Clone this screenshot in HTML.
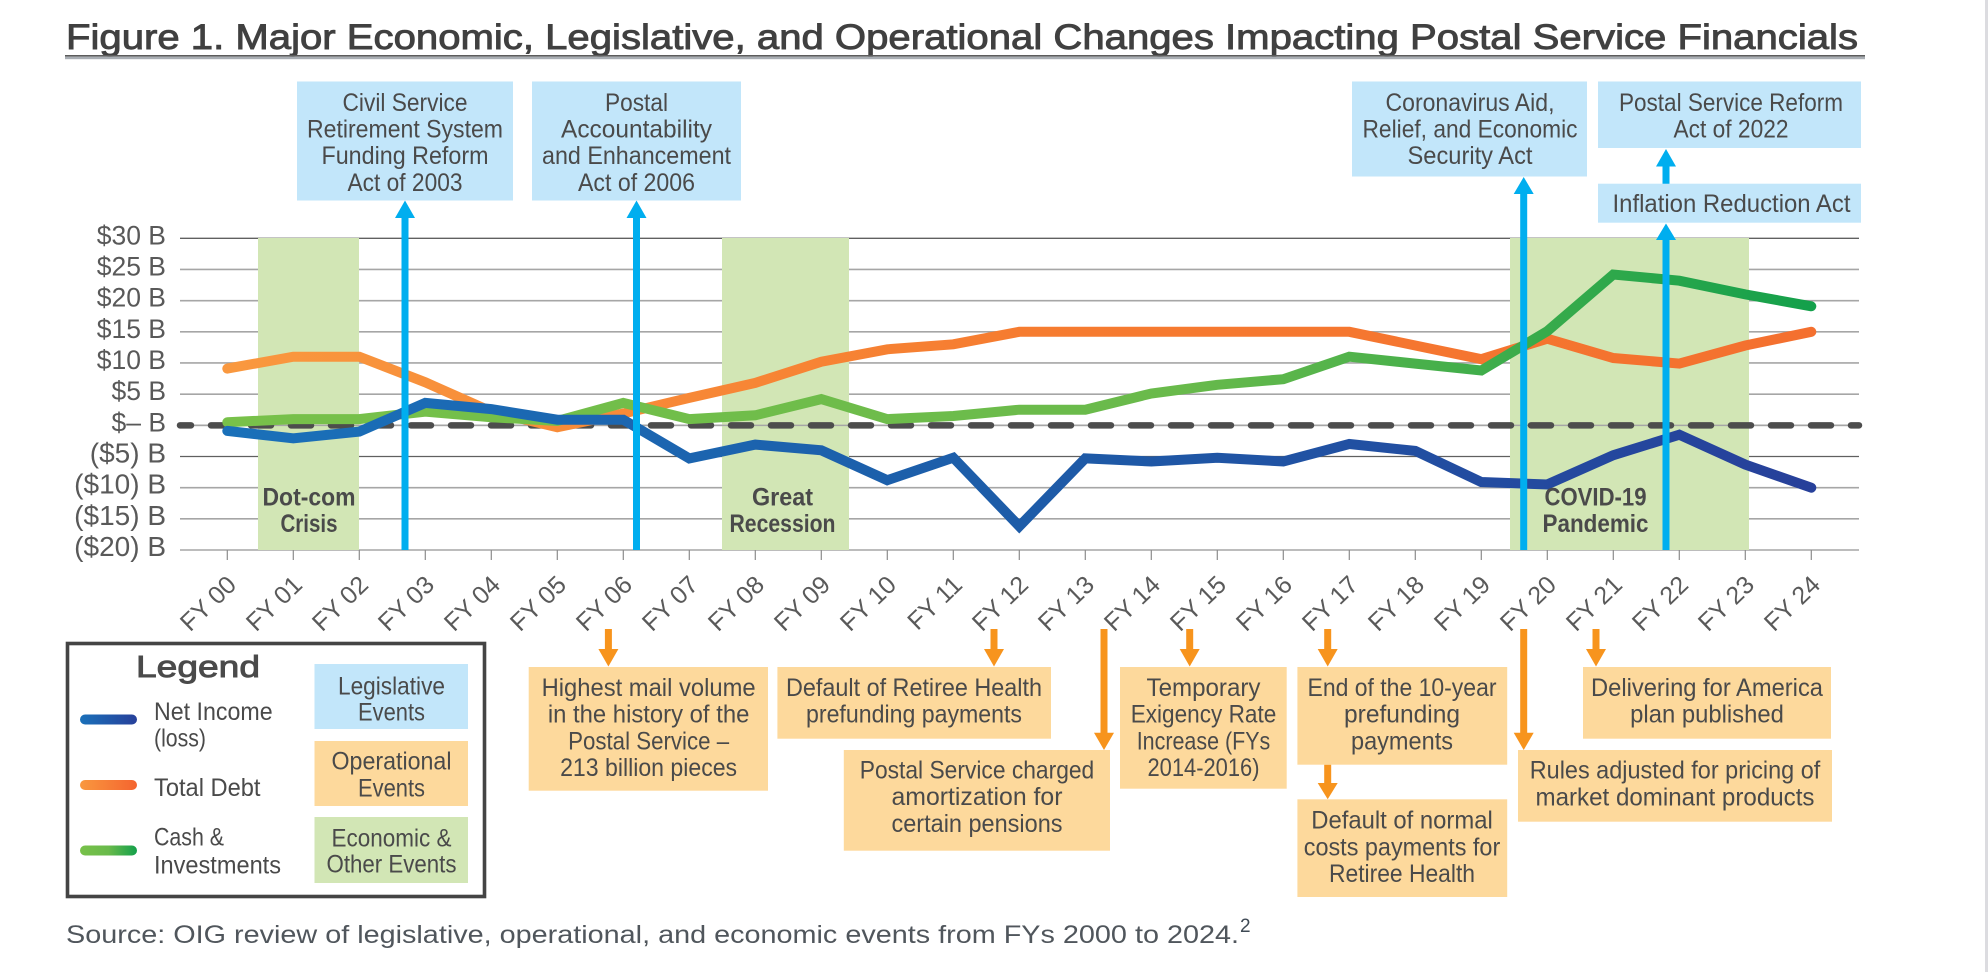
<!DOCTYPE html>
<html lang="en">
<head>
<meta charset="utf-8">
<title>Figure 1. Major Economic, Legislative, and Operational Changes Impacting Postal Service Financials</title>
<style>
  html, body { margin: 0; padding: 0; background: #fff; }
  body { width: 1988px; height: 972px; overflow: hidden; }
  svg { display: block; font-family: "Liberation Sans", sans-serif; }
  .t { font-size: 25px; fill: #4a4a4a; text-anchor: middle; }
  .l { font-size: 25px; fill: #4a4a4a; text-anchor: start; }
  .b { font-size: 25px; font-weight: bold; fill: #4a4a4a; text-anchor: middle; }
</style>
</head>
<body>
<svg id="chart" xmlns="http://www.w3.org/2000/svg" width="1988" height="972" viewBox="0 0 1988 972">
  <defs>
    <linearGradient id="gBlue" gradientUnits="userSpaceOnUse" x1="227" y1="0" x2="1811" y2="0">
      <stop offset="0" stop-color="#1a70b9"/><stop offset="0.5" stop-color="#1d5ca8"/><stop offset="1" stop-color="#27409a"/>
    </linearGradient>
    <linearGradient id="gOrange" gradientUnits="userSpaceOnUse" x1="227" y1="0" x2="1811" y2="0">
      <stop offset="0" stop-color="#f9983f"/><stop offset="0.5" stop-color="#f67c30"/><stop offset="1" stop-color="#f4702f"/>
    </linearGradient>
    <linearGradient id="gGreen" gradientUnits="userSpaceOnUse" x1="227" y1="0" x2="1811" y2="0">
      <stop offset="0" stop-color="#78c14a"/><stop offset="0.6" stop-color="#69ba4b"/><stop offset="1" stop-color="#14a04b"/>
    </linearGradient>
    <linearGradient id="sBlue"><stop offset="0" stop-color="#1a70b9"/><stop offset="1" stop-color="#27409a"/></linearGradient>
    <linearGradient id="sOrange"><stop offset="0" stop-color="#f9983f"/><stop offset="1" stop-color="#f4642f"/></linearGradient>
    <linearGradient id="sGreen"><stop offset="0" stop-color="#78c14a"/><stop offset="0.5" stop-color="#69ba4b"/><stop offset="1" stop-color="#14a04b"/></linearGradient>
  </defs>

  <rect x="1985" y="0" width="3" height="972" fill="#dcdce0"/>

  <text x="66" y="49" font-size="35" fill="#404040" stroke="#404040" stroke-width="0.9" textLength="1792" lengthAdjust="spacingAndGlyphs">Figure 1. Major Economic, Legislative, and Operational Changes Impacting Postal Service Financials</text>
  <rect x="65" y="55" width="1800" height="1.6" fill="#5c5c5c"/>
  <rect x="65" y="56.6" width="1800" height="2.6" fill="#a9aeb4"/>

  <g id="gridLayer"></g>

  <g>
    <rect x="258" y="238" width="101" height="312" fill="#d2e6b5"/>
    <rect x="722" y="238" width="127" height="312" fill="#d2e6b5"/>
    <rect x="1510" y="238" width="239" height="312" fill="#d2e6b5"/>
  </g>

  <g id="axisLayer"></g>
  <g id="zeroLayer"></g>
  <g id="seriesLayer"></g>

  <g>
    <text class="b" x="309" y="505.5" textLength="93" lengthAdjust="spacingAndGlyphs">Dot-com</text>
    <text class="b" x="309" y="532" textLength="57" lengthAdjust="spacingAndGlyphs">Crisis</text>
    <text class="b" x="782.5" y="505.5" textLength="61" lengthAdjust="spacingAndGlyphs">Great</text>
    <text class="b" x="782.5" y="532" textLength="106" lengthAdjust="spacingAndGlyphs">Recession</text>
    <text class="b" x="1595.5" y="505.5" textLength="102" lengthAdjust="spacingAndGlyphs">COVID-19</text>
    <text class="b" x="1595.5" y="532" textLength="106" lengthAdjust="spacingAndGlyphs">Pandemic</text>
  </g>

  <g>
    <rect x="297" y="81.5" width="216" height="119" fill="#c2e6fa"/>
    <text class="t" x="405" y="111" textLength="125" lengthAdjust="spacingAndGlyphs">Civil Service</text>
    <text class="t" x="405" y="137.5" textLength="196" lengthAdjust="spacingAndGlyphs">Retirement System</text>
    <text class="t" x="405" y="164" textLength="167" lengthAdjust="spacingAndGlyphs">Funding Reform</text>
    <text class="t" x="405" y="191" textLength="115" lengthAdjust="spacingAndGlyphs">Act of 2003</text>

    <rect x="532" y="81.5" width="209" height="119" fill="#c2e6fa"/>
    <text class="t" x="636.5" y="111" textLength="63" lengthAdjust="spacingAndGlyphs">Postal</text>
    <text class="t" x="636.5" y="137.5" textLength="151" lengthAdjust="spacingAndGlyphs">Accountability</text>
    <text class="t" x="636.5" y="164" textLength="189" lengthAdjust="spacingAndGlyphs">and Enhancement</text>
    <text class="t" x="636.5" y="191" textLength="117" lengthAdjust="spacingAndGlyphs">Act of 2006</text>

    <rect x="1352" y="81.5" width="235" height="95" fill="#c2e6fa"/>
    <text class="t" x="1470" y="111" textLength="169" lengthAdjust="spacingAndGlyphs">Coronavirus Aid,</text>
    <text class="t" x="1470" y="137.5" textLength="215" lengthAdjust="spacingAndGlyphs">Relief, and Economic</text>
    <text class="t" x="1470" y="164" textLength="125" lengthAdjust="spacingAndGlyphs">Security Act</text>

    <rect x="1598" y="81.5" width="263" height="66.5" fill="#c2e6fa"/>
    <text class="t" x="1731" y="111" textLength="224" lengthAdjust="spacingAndGlyphs">Postal Service Reform</text>
    <text class="t" x="1731" y="137.5" textLength="115" lengthAdjust="spacingAndGlyphs">Act of 2022</text>

    <rect x="1598" y="183.7" width="263" height="39" fill="#c2e6fa"/>
    <text class="t" x="1731.5" y="212" textLength="238" lengthAdjust="spacingAndGlyphs">Inflation Reduction Act</text>

    <polygon fill="#00aeef" points="405,200.5 415,218 408.5,218 408.5,550 401.5,550 401.5,218 395,218"/>
    <polygon fill="#00aeef" points="636.5,200.5 646.5,218 640,218 640,550 633,550 633,218 626.5,218"/>
    <polygon fill="#00aeef" points="1523.7,177 1533.7,194 1527.2,194 1527.2,550 1520.2,550 1520.2,194 1513.7,194"/>
    <polygon fill="#00aeef" points="1666,223.5 1676,240 1669.5,240 1669.5,550 1662.5,550 1662.5,240 1656,240"/>
    <polygon fill="#00aeef" points="1666,149 1676,166.5 1669.5,166.5 1669.5,183.7 1662.5,183.7 1662.5,166.5 1656,166.5"/>
  </g>

  <g>
    <rect x="528.7" y="667" width="239.3" height="123.7" fill="#fdd99c"/>
    <text class="t" x="648.6" y="696" textLength="214" lengthAdjust="spacingAndGlyphs">Highest mail volume</text>
    <text class="t" x="648.6" y="722.6" textLength="201.5" lengthAdjust="spacingAndGlyphs">in the history of the</text>
    <text class="t" x="648.6" y="749.3" textLength="161" lengthAdjust="spacingAndGlyphs">Postal Service –</text>
    <text class="t" x="648.6" y="776" textLength="177" lengthAdjust="spacingAndGlyphs">213 billion pieces</text>

    <rect x="777.4" y="667" width="273.6" height="71.7" fill="#fdd99c"/>
    <text class="t" x="914" y="696" textLength="256" lengthAdjust="spacingAndGlyphs">Default of Retiree Health</text>
    <text class="t" x="914" y="722.6" textLength="216" lengthAdjust="spacingAndGlyphs">prefunding payments</text>

    <rect x="843.8" y="750" width="266.2" height="100.7" fill="#fdd99c"/>
    <text class="t" x="977" y="778.5" textLength="234.5" lengthAdjust="spacingAndGlyphs">Postal Service charged</text>
    <text class="t" x="977" y="805" textLength="171" lengthAdjust="spacingAndGlyphs">amortization for</text>
    <text class="t" x="977" y="832" textLength="171" lengthAdjust="spacingAndGlyphs">certain pensions</text>

    <rect x="1120" y="667" width="166.7" height="121.7" fill="#fdd99c"/>
    <text class="t" x="1203.5" y="696" textLength="114" lengthAdjust="spacingAndGlyphs">Temporary</text>
    <text class="t" x="1203.5" y="722.6" textLength="145.6" lengthAdjust="spacingAndGlyphs">Exigency Rate</text>
    <text class="t" x="1203.5" y="749.3" textLength="133.6" lengthAdjust="spacingAndGlyphs">Increase (FYs</text>
    <text class="t" x="1203.5" y="776" textLength="112" lengthAdjust="spacingAndGlyphs">2014-2016)</text>

    <rect x="1297.4" y="667" width="209.8" height="97.7" fill="#fdd99c"/>
    <text class="t" x="1402" y="696" textLength="189" lengthAdjust="spacingAndGlyphs">End of the 10-year</text>
    <text class="t" x="1402" y="722.6" textLength="116" lengthAdjust="spacingAndGlyphs">prefunding</text>
    <text class="t" x="1402" y="749.3" textLength="102" lengthAdjust="spacingAndGlyphs">payments</text>

    <rect x="1297.4" y="799.3" width="209.8" height="97.7" fill="#fdd99c"/>
    <text class="t" x="1402" y="828.5" textLength="181.5" lengthAdjust="spacingAndGlyphs">Default of normal</text>
    <text class="t" x="1402" y="855.5" textLength="196.5" lengthAdjust="spacingAndGlyphs">costs payments for</text>
    <text class="t" x="1402" y="882" textLength="146" lengthAdjust="spacingAndGlyphs">Retiree Health</text>

    <rect x="1518" y="750" width="314" height="71.7" fill="#fdd99c"/>
    <text class="t" x="1675" y="778.5" textLength="290.5" lengthAdjust="spacingAndGlyphs">Rules adjusted for pricing of</text>
    <text class="t" x="1675" y="805.5" textLength="279" lengthAdjust="spacingAndGlyphs">market dominant products</text>

    <rect x="1583" y="667" width="248" height="71.7" fill="#fdd99c"/>
    <text class="t" x="1707" y="696" textLength="232" lengthAdjust="spacingAndGlyphs">Delivering for America</text>
    <text class="t" x="1707" y="722.6" textLength="153.7" lengthAdjust="spacingAndGlyphs">plan published</text>

    <polygon fill="#f7941d" points="604.9,629 611.9,629 611.9,649 618.4,649 608.4,666.5 598.4,649 604.9,649"/>
    <polygon fill="#f7941d" points="990.5,629 997.5,629 997.5,649 1004,649 994,666.5 984,649 990.5,649"/>
    <polygon fill="#f7941d" points="1100.5,629 1107.5,629 1107.5,732.7 1114,732.7 1104,750 1094,732.7 1100.5,732.7"/>
    <polygon fill="#f7941d" points="1186.2,629 1193.2,629 1193.2,649 1199.7,649 1189.7,666.5 1179.7,649 1186.2,649"/>
    <polygon fill="#f7941d" points="1324.2,629 1331.2,629 1331.2,649 1337.7,649 1327.7,666.5 1317.7,649 1324.2,649"/>
    <polygon fill="#f7941d" points="1324.2,764.7 1331.2,764.7 1331.2,783 1337.7,783 1327.7,799.3 1317.7,783 1324.2,783"/>
    <polygon fill="#f7941d" points="1520.2,629 1527.2,629 1527.2,732.7 1533.7,732.7 1523.7,750 1513.7,732.7 1520.2,732.7"/>
    <polygon fill="#f7941d" points="1592.5,629 1599.5,629 1599.5,649 1606,649 1596,666.5 1586,649 1592.5,649"/>
  </g>

  <g>
    <rect x="67.5" y="643.5" width="417" height="253" fill="#fff" stroke="#444" stroke-width="3.6"/>
    <text x="198" y="677" font-size="31" fill="#4a4a4a" stroke="#4a4a4a" stroke-width="0.9" text-anchor="middle" textLength="124" lengthAdjust="spacingAndGlyphs">Legend</text>

    <rect x="80" y="714.5" width="57" height="10" rx="5" fill="url(#sBlue)"/>
    <text class="l" x="154" y="720" textLength="118.6" lengthAdjust="spacingAndGlyphs">Net Income</text>
    <text class="l" x="154" y="746.5" textLength="52" lengthAdjust="spacingAndGlyphs">(loss)</text>

    <rect x="80" y="780" width="57" height="10" rx="5" fill="url(#sOrange)"/>
    <text class="l" x="154" y="796" textLength="106.5" lengthAdjust="spacingAndGlyphs">Total Debt</text>

    <rect x="80" y="845.5" width="57" height="10" rx="5" fill="url(#sGreen)"/>
    <text class="l" x="154" y="845.5" textLength="70" lengthAdjust="spacingAndGlyphs">Cash &amp;</text>
    <text class="l" x="154" y="873.5" textLength="127" lengthAdjust="spacingAndGlyphs">Investments</text>

    <rect x="314.5" y="664" width="153.5" height="65" fill="#c2e6fa"/>
    <text class="t" x="391.5" y="694.5" textLength="107" lengthAdjust="spacingAndGlyphs">Legislative</text>
    <text class="t" x="391.5" y="720.5" textLength="67" lengthAdjust="spacingAndGlyphs">Events</text>

    <rect x="314.5" y="741" width="153.5" height="65" fill="#fdd99c"/>
    <text class="t" x="391.5" y="769.5" textLength="120" lengthAdjust="spacingAndGlyphs">Operational</text>
    <text class="t" x="391.5" y="796.5" textLength="67" lengthAdjust="spacingAndGlyphs">Events</text>

    <rect x="314.5" y="817" width="153.5" height="66" fill="#d2e6b5"/>
    <text class="t" x="391.5" y="846.5" textLength="120" lengthAdjust="spacingAndGlyphs">Economic &amp;</text>
    <text class="t" x="391.5" y="872.5" textLength="130" lengthAdjust="spacingAndGlyphs">Other Events</text>
  </g>

  <text x="66" y="943" font-size="25" fill="#50565c" textLength="1173" lengthAdjust="spacingAndGlyphs">Source: OIG review of legislative, operational, and economic events from FYs 2000 to 2024.</text>
  <text x="1240" y="932" font-size="19" fill="#3f4a55">2</text>
</svg>

<script>
var categories = ["FY 00","FY 01","FY 02","FY 03","FY 04","FY 05","FY 06","FY 07","FY 08","FY 09","FY 10","FY 11","FY 12","FY 13","FY 14","FY 15","FY 16","FY 17","FY 18","FY 19","FY 20","FY 21","FY 22","FY 23","FY 24"];
var netIncome = [-0.9,-2.1,-1,3.6,2.6,0.9,0.9,-5.3,-3.1,-4,-8.8,-5.2,-16.2,-5.3,-5.8,-5.2,-5.8,-3,-4.1,-9.1,-9.5,-4.8,-1.5,-6.3,-10];
var totalDebt = [9.1,11,11,6.9,2.2,-0.3,1.9,4.4,6.8,10.2,12.2,13,15,15,15,15,15,15,12.8,10.6,13.9,10.8,9.9,12.8,15];
var cashInvestments = [0.5,1,1,2.2,1.3,0.7,3.6,1,1.6,4.2,1,1.5,2.5,2.5,5.1,6.5,7.4,11,9.9,8.8,15.1,24.2,23.2,21,19.1];
var yTickValues = [30,25,20,15,10,5,0,-5,-10,-15,-20];
var yTickLabels = ["$30 B","$25 B","$20 B","$15 B","$10 B","$5 B","$\u2013 B","($5) B","($10) B","($15) B","($20) B"];

var NS = "http://www.w3.org/2000/svg";
var plotLeft = 180, plotRight = 1859, plotTop = 238.3, plotBottom = 550;
var firstCatX = 227.3, catStep = 66;
function xScale(i) { return firstCatX + i * catStep; }
function yScale(v) { return plotTop + (30 - v) * (plotBottom - plotTop) / 50; }
function make(tag, parent) {
  var el = document.createElementNS(NS, tag);
  parent.appendChild(el);
  return el;
}

var gridLayer = document.getElementById("gridLayer");
var axisLayer = document.getElementById("axisLayer");
var zeroLayer = document.getElementById("zeroLayer");
var seriesLayer = document.getElementById("seriesLayer");

yTickValues.forEach(function (v, i) {
  var line = make("line", gridLayer);
  
  
  line.setAttribute("x1", plotLeft);
  line.setAttribute("x2", plotRight);
  line.setAttribute("y1", yScale(v));
  line.setAttribute("y2", yScale(v));
  var dark = (v === 30 || v === -5);
  line.setAttribute("stroke", dark ? "#606060" : "#a6a6a6");
  line.setAttribute("stroke-width", dark ? 1.3 : 1.6);

  var label = make("text", axisLayer);
  
  
  label.setAttribute("x", 166);
  label.setAttribute("y", yScale(v) + 6);
  label.setAttribute("text-anchor", "end");
  label.setAttribute("font-size", v < 0 ? "28" : "26.5");
  label.setAttribute("fill", "#595959");
  label.textContent = yTickLabels[i];
});

categories.forEach(function (c, i) {
  var tick = make("line", axisLayer);
  
  
  tick.setAttribute("x1", xScale(i));
  tick.setAttribute("x2", xScale(i));
  tick.setAttribute("y1", plotBottom);
  tick.setAttribute("y2", plotBottom + 10);
  tick.setAttribute("stroke", "#8c8c8c");
  tick.setAttribute("stroke-width", "1.2");

  var label = make("text", axisLayer);
  
  
  var lx = xScale(i) + 10.5, ly = 586.5;
  label.setAttribute("x", lx);
  label.setAttribute("y", ly);
  label.setAttribute("text-anchor", "end");
  label.setAttribute("font-size", "25");
  label.setAttribute("fill", "#5a5a5a");
  label.setAttribute("transform", "rotate(-44 " + lx + " " + ly + ")");
  label.textContent = c;
});

var zeroThin = make("line", zeroLayer);


zeroThin.setAttribute("x1", plotLeft);
zeroThin.setAttribute("x2", plotRight);
zeroThin.setAttribute("y1", yScale(0));
zeroThin.setAttribute("y2", yScale(0));
zeroThin.setAttribute("stroke", "#a6a6a6");
zeroThin.setAttribute("stroke-width", "1.5");

var zeroDash = make("line", zeroLayer);


zeroDash.setAttribute("x1", 180);
zeroDash.setAttribute("x2", 1859);
zeroDash.setAttribute("y1", yScale(0));
zeroDash.setAttribute("y2", yScale(0));
zeroDash.setAttribute("stroke", "#4d4d4d");
zeroDash.setAttribute("stroke-width", "6.5");
zeroDash.setAttribute("stroke-linecap", "round");
zeroDash.setAttribute("stroke-dasharray", "20 20");
zeroDash.setAttribute("stroke-dashoffset", "9");

function pointsFor(values) {
  return values.map(function (v, i) {
    return xScale(i).toFixed(1) + "," + yScale(v).toFixed(1);
  }).join(" ");
}

var debtLine = make("polyline", seriesLayer);


debtLine.setAttribute("points", pointsFor(totalDebt));
debtLine.setAttribute("fill", "none");
debtLine.setAttribute("stroke", "url(#gOrange)");
debtLine.setAttribute("stroke-width", "10");
debtLine.setAttribute("stroke-linecap", "round");
debtLine.setAttribute("stroke-linejoin", "miter");

var cashLine = make("polyline", seriesLayer);


cashLine.setAttribute("points", pointsFor(cashInvestments));
cashLine.setAttribute("fill", "none");
cashLine.setAttribute("stroke", "url(#gGreen)");
cashLine.setAttribute("stroke-width", "10");
cashLine.setAttribute("stroke-linecap", "round");
cashLine.setAttribute("stroke-linejoin", "miter");

var incomeLine = make("polyline", seriesLayer);


incomeLine.setAttribute("points", pointsFor(netIncome));
incomeLine.setAttribute("fill", "none");
incomeLine.setAttribute("stroke", "url(#gBlue)");
incomeLine.setAttribute("stroke-width", "10");
incomeLine.setAttribute("stroke-linecap", "round");
incomeLine.setAttribute("stroke-linejoin", "miter");
</script>
</body>
</html>
